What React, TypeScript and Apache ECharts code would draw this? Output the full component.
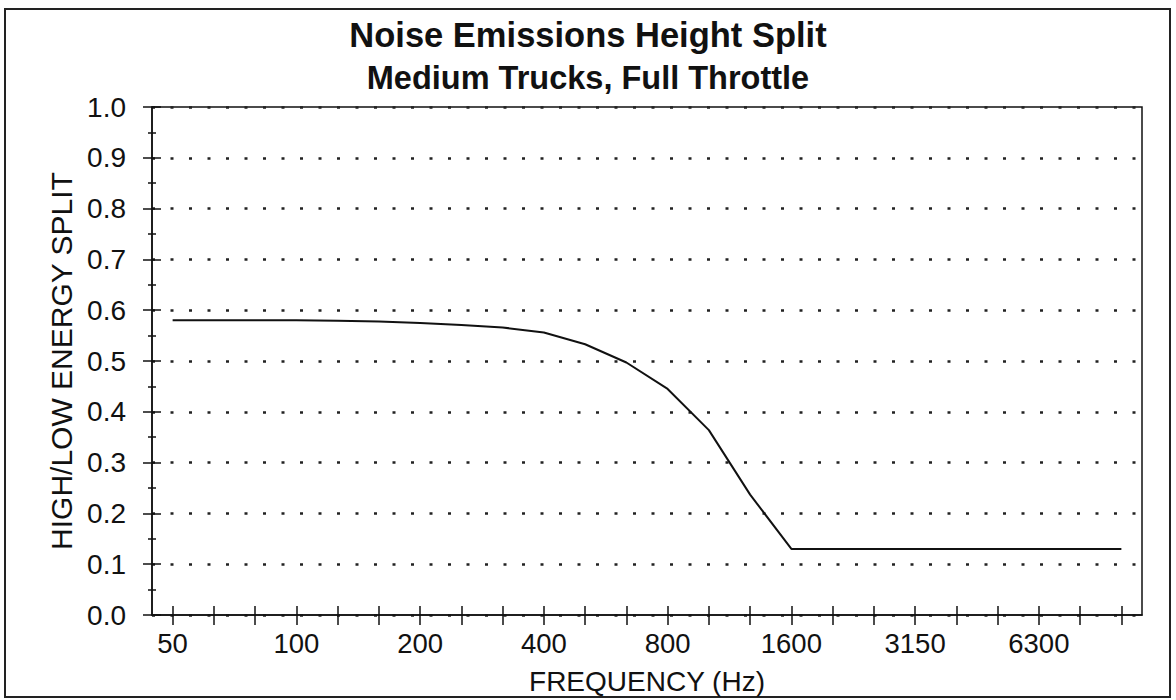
import React, { useEffect, useRef } from "react";
import * as echarts from "echarts";

const titleText = "Noise Emissions Height Split";
const subtitleText = "Medium Trucks, Full Throttle";
const xAxisName = "FREQUENCY (Hz)";
const yAxisName = "HIGH/LOW ENERGY SPLIT";

const bands = [
  "50", "63", "80", "100", "125", "160", "200", "250", "315", "400", "500", "630",
  "800", "1000", "1250", "1600", "2000", "2500", "3150", "4000", "5000", "6300", "8000", "10000",
];
const splitValues = [
  0.58, 0.58, 0.58, 0.58, 0.579, 0.578, 0.575, 0.571, 0.566, 0.556, 0.533, 0.497,
  0.445, 0.364, 0.237, 0.13, 0.13, 0.13, 0.13, 0.13, 0.13, 0.13, 0.13, 0.13,
];

const FONT = "'Liberation Sans', Arial, Helvetica, sans-serif";

export default function App() {
  const ref = useRef<HTMLDivElement>(null);
  useEffect(() => {
    if (!ref.current) return;
    const chart = echarts.init(ref.current, undefined, { renderer: "svg" });
    const grid = { left: 152, top: 107, right: 34, bottom: 82 };
    chart.setOption({
      animation: false,
      backgroundColor: "#ffffff",
      textStyle: { fontFamily: FONT, color: "#111" },
      title: [
        {
          text: titleText,
          left: "center",
          top: 12,
          textStyle: { fontFamily: FONT, fontSize: 34.5, fontWeight: "bold", color: "#111" },
        },
        {
          text: subtitleText,
          left: "center",
          top: 56,
          textStyle: { fontFamily: FONT, fontSize: 32.5, fontWeight: "bold", color: "#111" },
        },
      ],
      graphic: [
        {
          type: "rect",
          shape: { x: 5, y: 9, width: 1165, height: 688 },
          style: { fill: "none", stroke: "#222", lineWidth: 2 },
          silent: true,
        },
      ],
      grid: { ...grid, show: true, borderColor: "#111", borderWidth: 1.5, backgroundColor: "transparent" },
      xAxis: [
        {
          type: "category",
          data: bands,
          boundaryGap: true,
          position: "bottom",
          name: xAxisName,
          nameLocation: "middle",
          nameGap: 52,
          nameTextStyle: { fontFamily: FONT, fontSize: 28, color: "#111" },
          axisLine: { show: true, lineStyle: { color: "#111", width: 1.5 } },
          axisTick: { show: true, alignWithLabel: true, interval: 0, inside: false, length: 10, lineStyle: { color: "#111", width: 1.5 } },
          axisLabel: { interval: 2, fontFamily: FONT, fontSize: 27.5, color: "#111", margin: 14 },
          splitLine: { show: false },
        },
        {
          type: "category",
          data: bands,
          boundaryGap: true,
          position: "bottom",
          axisLine: { show: false },
          axisTick: { show: true, alignWithLabel: true, interval: 0, inside: true, length: 9, lineStyle: { color: "#111", width: 1.5 } },
          axisLabel: { show: false },
          splitLine: { show: false },
        },
      ],
      yAxis: [
        {
          type: "value",
          min: 0,
          max: 1,
          interval: 0.1,
          position: "left",
          name: yAxisName,
          nameLocation: "middle",
          nameGap: 76,
          nameRotate: 90,
          nameTextStyle: { fontFamily: FONT, fontSize: 30, color: "#111" },
          axisLine: { show: true, lineStyle: { color: "#111", width: 1.5 } },
          axisTick: { show: true, inside: false, length: 9, lineStyle: { color: "#111", width: 1.5 } },
          minorTick: { show: true, splitNumber: 2, length: 4, lineStyle: { color: "#111", width: 1.5 } },
          axisLabel: {
            fontFamily: FONT,
            fontSize: 28,
            color: "#111",
            margin: 26,
            formatter: (v: number) => v.toFixed(1),
          },
          splitLine: { show: true, lineStyle: { color: "#222", width: 2.5, type: [3, 15.5] } },
        },
        {
          type: "value",
          min: 0,
          max: 1,
          interval: 0.1,
          position: "left",
          offset: 0,
          axisLine: { show: false },
          axisTick: { show: true, inside: true, length: 9, lineStyle: { color: "#111", width: 1.5 } },
          minorTick: { show: true, splitNumber: 2, length: 4, lineStyle: { color: "#111", width: 1.5 } },
          axisLabel: { show: false },
          splitLine: { show: false },
        },
      ],
      series: [
        {
          type: "line",
          data: splitValues,
          xAxisIndex: 0,
          yAxisIndex: 0,
          showSymbol: false,
          symbol: "none",
          lineStyle: { color: "#111", width: 2 },
        },
      ],
    });
    return () => chart.dispose();
  }, []);
  return (
    <div
      ref={ref}
      style={{ position: "fixed", left: 0, top: 0, width: 1176, height: 700, background: "#fff" }}
    />
  );
}
